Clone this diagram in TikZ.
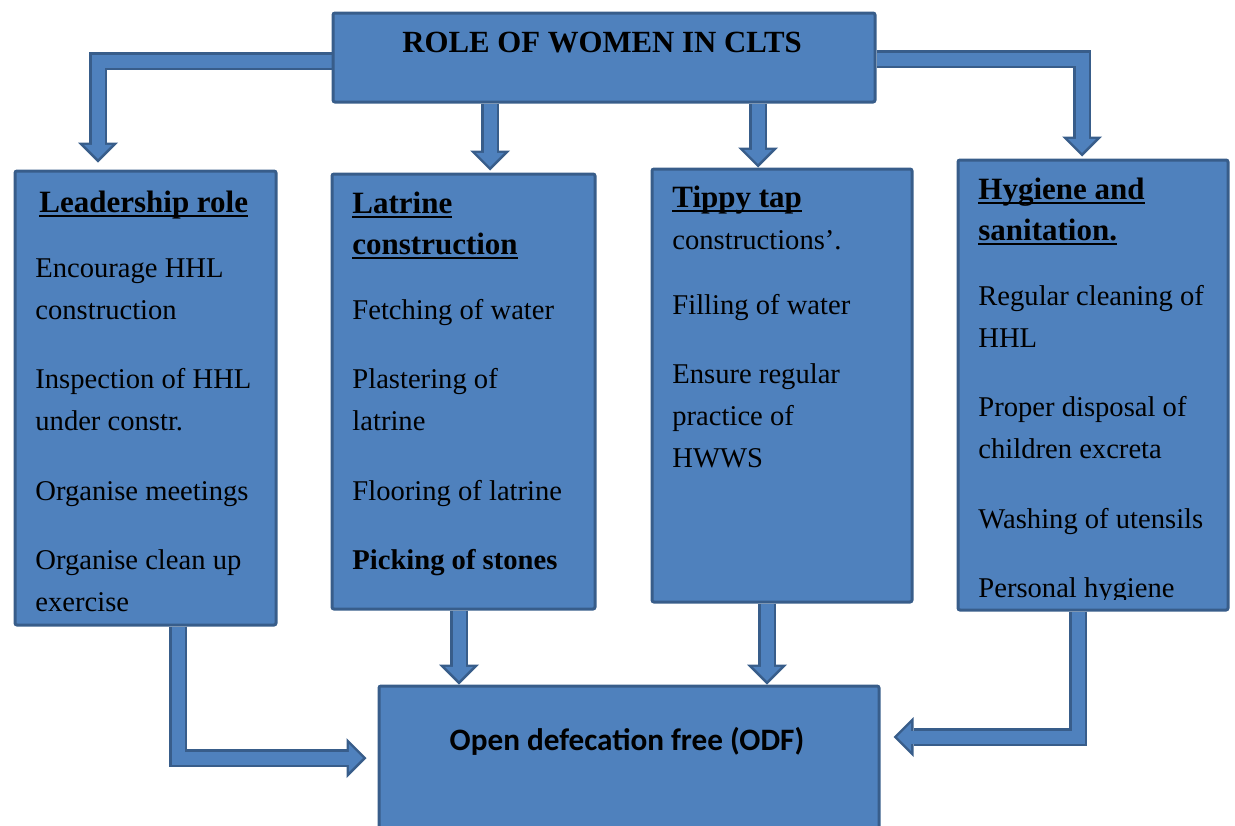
\documentclass[tikz,border=0pt]{standalone}
\usepackage{fontspec}
\setmainfont{Liberation Serif}
\newfontfamily\odffont{Carlito}
\usetikzlibrary{arrows.meta,calc,backgrounds}

\definecolor{boxblue}{HTML}{4F81BD}
\definecolor{edgeblue}{HTML}{385D8A}

\newcommand{\ulhead}[1]{\leavevmode\sbox0{#1}\rlap{\rule[-2.5pt]{\wd0}{1pt}}\usebox0}
\newcommand{\headfont}{\fontsize{15.5}{20.5}\selectfont\bfseries}
\newcommand{\itemfont}{\fontsize{14.3}{21}\selectfont\mdseries}
\newcommand{\headgap}{\par\vspace{11.5pt}}
\newcommand{\itemgap}{\par\vspace{13.75pt}}
\newcommand{\blockarrow}[1]{%
    \draw[arrowedge] #1;
    \draw[arrowcore] #1;}

\tikzset{
    rolebox/.style={draw=edgeblue, fill=boxblue, line width=1.5pt,
        rounded corners=1pt, anchor=north west, inner sep=0pt},
    itemtext/.style={anchor=base west, inner sep=0pt, align=left},
    arrowedge/.style={draw=edgeblue, line width=9pt, line join=miter,
        -{Triangle[length=10pt,width=20pt,line width=0pt]}},
    arrowcore/.style={draw=boxblue, line width=6.5pt, line join=miter,
        shorten >=1.77pt, -{Triangle[length=7pt,width=14pt,line width=0pt]}}
}

\begin{document}
\begin{tikzpicture}[x=0.5pt, y=-0.5pt]
    \useasboundingbox (0,0) rectangle (1235,825);

    % boxes
    \node[rolebox, minimum width=271pt, minimum height=44.5pt] (role) at (331.5,11.5) {};
    \node[rolebox, minimum width=130.5pt, minimum height=227pt] (lead) at (13.5,169.5) {};
    \node[rolebox, minimum width=131.5pt, minimum height=217.5pt] (latr) at (330.5,172.5) {};
    \node[rolebox, minimum width=130pt, minimum height=216.5pt] (tippy) at (650.5,167.5) {};
    \node[rolebox, minimum width=135pt, minimum height=225pt] (hyg) at (956.5,158.5) {};
    \node[rolebox, minimum width=250pt, minimum height=80pt] (odf) at (377.5,684.5) {};

    % titles
    \node[font=\fontsize{15.4}{18}\selectfont\bfseries, anchor=base] (roletitle)
        at (602,52) {ROLE OF WOMEN IN CLTS};
    \node[font=\odffont\fontsize{15.6}{18}\selectfont\bfseries, anchor=base] (odftitle)
        at (627,750) {Open defecation free (ODF)};

    % box texts
    \node[itemtext] (leadtext) at (35,212) {\parbox[t]{125pt}{\raggedright
        \headfont\hspace*{2pt}\ulhead{Leadership role}\headgap
        \itemfont Encourage HHL\\construction\itemgap
        Inspection of HHL\\under constr.\itemgap
        Organise meetings\itemgap
        Organise clean up\\exercise}};
    \node[itemtext] (latrtext) at (352,213) {\parbox[t]{125pt}{\raggedright
        \headfont\ulhead{Latrine}\\\ulhead{construction}\headgap
        \itemfont Fetching of water\itemgap
        Plastering of\\latrine\itemgap
        Flooring of latrine\itemgap
        \bfseries Picking of stones}};
    \node[itemtext] (tippytext) at (672,207) {\parbox[t]{125pt}{\raggedright
        \headfont\ulhead{Tippy tap}\\\itemfont constructions’.\headgap
        Filling of water\itemgap
        Ensure regular\\practice of\\HWWS}};
    \begin{scope}
        \clip (hyg.north west) rectangle ($(hyg.south east)+(0,-12)$);
        \node[itemtext] (hygtext) at (978,199) {\parbox[t]{125pt}{\raggedright
            \headfont\ulhead{Hygiene and}\\\ulhead{sanitation.}\headgap
            \itemfont Regular cleaning of\\HHL\itemgap
            Proper disposal of\\children excreta\itemgap
            Washing of utensils\itemgap
            Personal hygiene}};
    \end{scope}

    % block arrows
    \begin{pgfonlayer}{background}
        \blockarrow{(role.west |- 0,61) -| ($(lead.north -| 98,0)+(0,-7)$)}
        \blockarrow{(role.east |- 0,59) -| ($(hyg.north -| 1082,0)+(0,-2)$)}
        \blockarrow{(role.south -| 490,0) -- ($(latr.north -| 490,0)+(0,-2)$)}
        \blockarrow{(role.south -| 758,0) -- (tippy.north -| 758,0)}
        \blockarrow{(latr.south -| 459,0) -- (odf.north -| 459,0)}
        \blockarrow{(tippy.south -| 767,0) -- (odf.north -| 767,0)}
        \blockarrow{(lead.south -| 178,0) |- ($(odf.west |- 0,758)+(-11,0)$)}
        \blockarrow{(hyg.south -| 1078,0) |- ($(odf.east |- 0,737)+(13,0)$)}
    \end{pgfonlayer}
\end{tikzpicture}
\end{document}
